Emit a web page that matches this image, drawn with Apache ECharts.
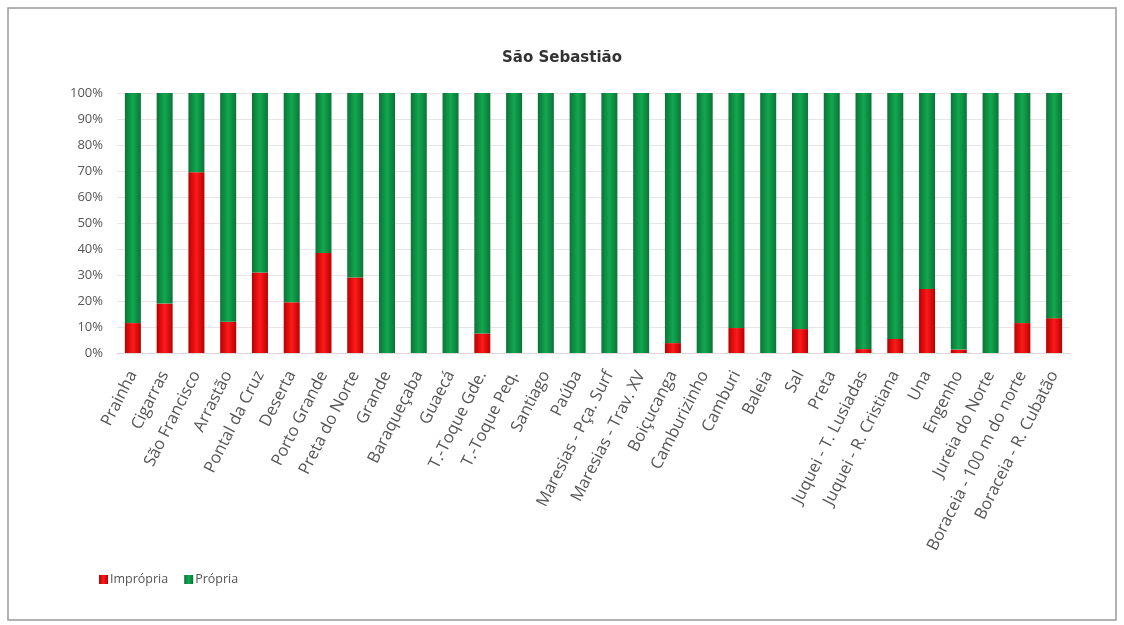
<!DOCTYPE html>
<html>
<head>
<meta charset="utf-8">
<script src="https://cdn.jsdelivr.net/npm/echarts@6/dist/echarts.min.js"></script>
<style>
html,body{margin:0;padding:0;background:#fff;}
#chart{width:1124px;height:625px;}
</style>
</head>
<body>
<div id="chart"></div>
<script>
const categories = ["Prainha","Cigarras","São Francisco","Arrastão","Pontal da Cruz","Deserta","Porto Grande","Preta do Norte","Grande","Baraqueçaba","Guaecá","T.-Toque Gde.","T.-Toque Peq.","Santiago","Paúba","Maresias - Pça. Surf","Maresias - Trav. XV","Boiçucanga","Camburizinho","Camburi","Baleia","Sal","Preta","Juquei - T. Lusiadas","Juquei - R. Cristiana","Una","Engenho","Jureia do Norte","Boraceia - 100 m do norte","Boraceia - R. Cubatão"];
const impropria = [11.5,19,69.5,12,31,19.5,38.5,29,0,0,0,7.5,0,0,0,0,0,3.8,0,9.6,0,9.2,0,1.5,5.4,24.6,1.3,0,11.5,13.4];
const propria = impropria.map(v => +(100 - v).toFixed(1));
const yTicks = [0,10,20,30,40,50,60,70,80,90,100];

const chart = echarts.init(document.getElementById('chart'));
const font = "'Open Sans', sans-serif";
function grad(edge, mid){
  return new echarts.graphic.LinearGradient(0,0,1,0,[
    {offset:0,color:edge},{offset:0.5,color:mid},{offset:1,color:edge}]);
}
chart.setOption({
  animation:false,
  backgroundColor:'#fff',
  graphic:[{type:'rect',shape:{x:8,y:8,width:1108,height:612},style:{fill:'none',stroke:'#9a9a9a',lineWidth:1.5},silent:true}],
  title:{text:'São Sebastião',left:'center',top:46,textStyle:{fontFamily:"'DejaVu Sans', sans-serif",fontSize:15,fontWeight:'bold',color:'#333'}},
  legend:{left:94,top:568,itemWidth:9,itemHeight:9,itemGap:16,icon:'rect',
    textStyle:{fontFamily:font,fontSize:12.5,color:'#555',padding:[0,0,0,-3]},
    data:['Imprópria','Própria']},
  grid:{left:117,right:54,top:93,bottom:272,containLabel:false},
  xAxis:{type:'category',data:categories,
    axisLine:{show:true,lineStyle:{color:'#e0d8d8'}},axisTick:{show:false},
    axisLabel:{interval:0,rotate:63,fontFamily:font,fontSize:16.5,color:'#555',margin:19}},
  yAxis:{type:'value',min:0,max:100,interval:10,
    axisLabel:{formatter:'{value}%',fontFamily:font,fontSize:13,color:'#555',margin:14},
    axisLine:{show:false},axisTick:{show:false},
    splitLine:{lineStyle:{color:'#ebe4e4',width:1}}},
  series:[
    {name:'Imprópria',type:'bar',stack:'t',barWidth:16,data:impropria,
     itemStyle:{color:grad('#b80000','#ff1a1a')}},
    {name:'Própria',type:'bar',stack:'t',barWidth:16,data:propria,
     itemStyle:{color:grad('#0a7438','#12a84f')}}
  ]
});
</script>
</body>
</html>
